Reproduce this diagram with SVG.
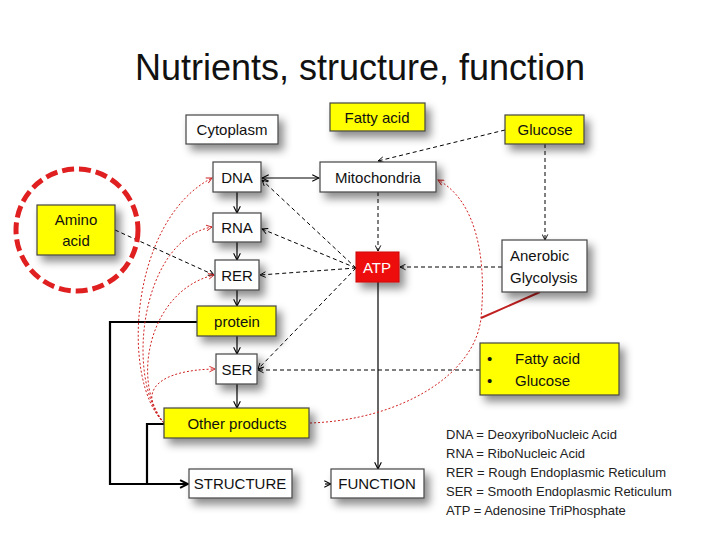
<svg xmlns="http://www.w3.org/2000/svg" width="720" height="540" viewBox="0 0 720 540">
<defs>
<filter id="sh" x="-30%" y="-30%" width="170%" height="190%"><feDropShadow dx="5" dy="6" stdDeviation="4" flood-color="#000" flood-opacity="0.45"/></filter>
<marker id="a" viewBox="0 0 10 10" refX="9" refY="5" markerWidth="7" markerHeight="7" orient="auto-start-reverse"><path d="M1,1 L9,5 L1,9" fill="none" stroke="#000" stroke-width="1.3"/></marker>
<marker id="r" viewBox="0 0 10 10" refX="9" refY="5" markerWidth="7" markerHeight="7" orient="auto"><path d="M1,1 L9,5 L1,9" fill="none" stroke="#d02020" stroke-width="1.3"/></marker>
<marker id="b" viewBox="0 0 10 10" refX="9" refY="5" markerWidth="4.5" markerHeight="4.5" orient="auto"><path d="M1,1 L9,5 L1,9" fill="none" stroke="#000" stroke-width="2"/></marker>
</defs>
<style>
text{font-family:"Liberation Sans",Arial,sans-serif;fill:#111}
.w{fill:#fff;stroke:#444;stroke-width:1.2;filter:url(#sh)}
.y{fill:#ffff00;stroke:#444;stroke-width:1.2;filter:url(#sh)}
.t{font-size:15px;text-anchor:middle}
.s{stroke:#000;stroke-width:1.2;fill:none}
.d{stroke:#000;stroke-width:1;stroke-dasharray:4 3;fill:none}
.rd{stroke:#d02020;stroke-width:1;stroke-dasharray:2 2;fill:none}
.k{stroke:#000;stroke-width:2.2;fill:none}
.lg{font-size:13px;fill:#222}
</style>
<text x="360" y="80" font-size="36" text-anchor="middle">Nutrients, structure, function</text>
<g id="connectors">
<path class="s" d="M237,192 V213" marker-end="url(#a)"/>
<path class="s" d="M237,242 V260" marker-end="url(#a)"/>
<path class="s" d="M237,290 V306" marker-end="url(#a)"/>
<path class="s" d="M237,336 V354" marker-end="url(#a)"/>
<path class="s" d="M237,384 V408" marker-end="url(#a)"/>
<path class="s" d="M262,178 H319" marker-start="url(#a)" marker-end="url(#a)"/>
<path class="s" d="M378,282 V469" marker-end="url(#a)"/>
<path class="s" d="M325,484 H331" marker-end="url(#a)"/>
<path class="k" d="M197,322 H110 V484 H188" marker-end="url(#b)"/>
<path class="k" d="M164,424 H147 V484"/>
<path class="d" d="M505,130 L378,161" marker-end="url(#a)"/>
<path class="d" d="M545,144 V240" marker-end="url(#a)"/>
<path class="d" d="M502,267 H400" marker-end="url(#a)"/>
<path class="d" d="M480,370 H258" marker-end="url(#a)"/>
<path class="d" d="M115,230 L214,275" marker-end="url(#a)"/>
<path class="d" d="M378,192 V251" marker-end="url(#a)"/>
<path class="d" d="M356,268 L262,180" marker-end="url(#a)"/>
<path class="d" d="M356,268 L262,229" marker-end="url(#a)"/>
<path class="d" d="M356,268 L260,275" marker-end="url(#a)"/>
<path class="d" d="M356,268 L258,369" marker-end="url(#a)"/>
<path class="rd" d="M164,423 C120,380 130,220 212,178" marker-end="url(#r)"/>
<path class="rd" d="M164,423 C125,380 140,240 212,227" marker-end="url(#r)"/>
<path class="rd" d="M164,423 C130,380 150,290 214,275" marker-end="url(#r)"/>
<path class="rd" d="M164,423 C135,390 160,370 215,369" marker-end="url(#r)"/>
<path class="rd" d="M310,423 C400,420 475,375 481,318 C487,255 475,200 438,180" marker-end="url(#r)"/>
<path d="M540,292 L481,318" stroke="#c02020" stroke-width="2" fill="none"/>
<circle cx="77" cy="230" r="61" fill="none" stroke="#e02020" stroke-width="5" stroke-dasharray="12 5"/>
</g>
<g id="cytoplasm"><rect class="w" x="186" y="115" width="92" height="29"/><text class="t" x="232" y="135">Cytoplasm</text></g>
<g id="fattyacid"><rect class="y" x="330" y="103" width="95" height="28"/><text class="t" x="377" y="123">Fatty acid</text></g>
<g id="glucose"><rect class="y" x="505" y="115" width="79" height="29"/><text class="t" x="545" y="135">Glucose</text></g>
<g id="dna"><rect class="w" x="213" y="162" width="48" height="30"/><text class="t" x="237" y="183">DNA</text></g>
<g id="mito"><rect class="w" x="320" y="162" width="116" height="30"/><text class="t" x="378" y="183">Mitochondria</text></g>
<g id="amino"><rect class="y" x="37" y="205" width="78" height="50"/><text class="t" x="76" y="225">Amino</text><text class="t" x="76" y="246">acid</text></g>
<g id="rna"><rect class="w" x="213" y="213" width="48" height="29"/><text class="t" x="237" y="233">RNA</text></g>
<g id="rer"><rect class="w" x="215" y="260" width="44" height="30"/><text class="t" x="237" y="281">RER</text></g>
<g id="atp"><rect x="356" y="252" width="43" height="30" fill="#ee1111" stroke="#c00" filter="url(#sh)"/><text class="t" x="377" y="273" style="fill:#fff">ATP</text></g>
<g id="anerobic"><rect class="w" x="502" y="240" width="85" height="52"/><text x="510" y="261" font-size="15">Anerobic</text><text x="510" y="283" font-size="15">Glycolysis</text></g>
<g id="protein"><rect class="y" x="197" y="306" width="79" height="30"/><text class="t" x="237" y="327">protein</text></g>
<g id="ser"><rect class="w" x="216" y="354" width="41" height="30"/><text class="t" x="237" y="375">SER</text></g>
<g id="bullets"><rect class="y" x="480" y="343" width="139" height="52"/><text x="487" y="364" font-size="15">•</text><text x="515" y="364" font-size="15">Fatty acid</text><text x="487" y="386" font-size="15">•</text><text x="515" y="386" font-size="15">Glucose</text></g>
<g id="other"><rect class="y" x="164" y="408" width="145" height="30"/><text class="t" x="237" y="429">Other products</text></g>
<g id="structure"><rect class="w" x="189" y="469" width="103" height="29"/><text class="t" x="240" y="489">STRUCTURE</text></g>
<g id="function"><rect class="w" x="331" y="469" width="93" height="29"/><text class="t" x="377" y="489">FUNCTION</text></g>
<g id="legend">
<text class="lg" x="446" y="439">DNA = DeoxyriboNucleic Acid</text>
<text class="lg" x="446" y="458">RNA = RiboNucleic Acid</text>
<text class="lg" x="446" y="477">RER = Rough Endoplasmic Reticulum</text>
<text class="lg" x="446" y="496">SER = Smooth Endoplasmic Reticulum</text>
<text class="lg" x="446" y="515">ATP = Adenosine TriPhosphate</text>
</g>
</svg>
